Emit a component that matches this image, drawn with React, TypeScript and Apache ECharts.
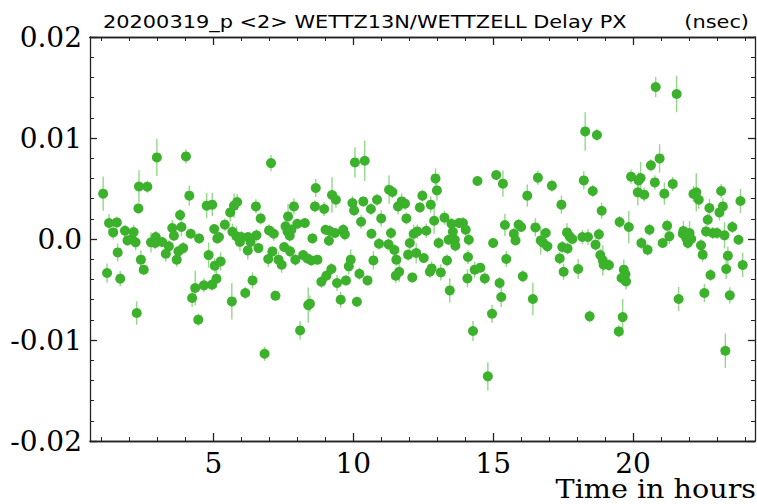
import React, { useEffect, useRef } from "react";
import * as echarts from "echarts";

// Time (hours), delay residual (nsec), formal error (nsec)
const times = [
  1.06, 1.2, 1.27, 1.42, 1.55, 1.58, 1.67, 1.84, 1.93, 2.08, 2.15, 2.22, 2.26, 2.32, 2.34, 2.41, 2.51, 2.64, 2.77, 2.92,
  2.94, 2.98, 3.17, 3.3, 3.41, 3.53, 3.59, 3.69, 3.75, 3.81, 3.86, 3.92, 4.02, 4.14, 4.19, 4.24, 4.35, 4.46, 4.49, 4.66,
  4.76, 4.83, 4.95, 4.96, 5.03, 5.05, 5.11, 5.14, 5.2, 5.26, 5.41, 5.6, 5.66, 5.68, 5.74, 5.83, 5.85, 5.95, 6.0, 6.14,
  6.23, 6.24, 6.33, 6.4, 6.52, 6.54, 6.61, 6.69, 6.83, 6.96, 6.99, 7.06, 7.11, 7.16, 7.22, 7.33, 7.44, 7.53, 7.58, 7.65,
  7.67, 7.73, 7.74, 7.79, 7.88, 7.93, 8.0, 8.1, 8.21, 8.27, 8.36, 8.39, 8.45, 8.5, 8.54, 8.63, 8.66, 8.72, 8.86, 8.96,
  9.01, 9.04, 9.13, 9.16, 9.22, 9.24, 9.35, 9.38, 9.42, 9.55, 9.64, 9.7, 9.74, 9.84, 9.91, 9.97, 10.03, 10.06, 10.13, 10.22,
  10.28, 10.36, 10.41, 10.51, 10.63, 10.65, 10.72, 10.85, 10.92, 11.0, 11.26, 11.28, 11.35, 11.4, 11.47, 11.52, 11.54, 11.6, 11.64, 11.73,
  11.85, 11.9, 11.96, 12.02, 12.11, 12.16, 12.25, 12.29, 12.38, 12.47, 12.52, 12.61, 12.74, 12.77, 12.8, 12.89, 12.94, 12.99, 13.05, 13.13,
  13.26, 13.35, 13.41, 13.45, 13.51, 13.56, 13.63, 13.65, 13.78, 13.92, 14.02, 14.08, 14.1, 14.13, 14.28, 14.34, 14.44, 14.54, 14.7, 14.81,
  14.96, 15.0, 15.11, 15.23, 15.29, 15.35, 15.42, 15.47, 15.74, 15.8, 15.91, 16.0, 16.06, 16.22, 16.42, 16.51, 16.6, 16.7, 16.77, 16.88,
  16.94, 17.1, 17.38, 17.44, 17.47, 17.52, 17.64, 17.66, 17.73, 17.83, 18.04, 18.19, 18.24, 18.29, 18.39, 18.45, 18.56, 18.66, 18.71, 18.78,
  18.83, 18.88, 18.92, 18.95, 19.14, 19.49, 19.52, 19.59, 19.63, 19.67, 19.73, 19.75, 19.85, 19.93, 20.17, 20.2, 20.27, 20.3, 20.4, 20.52,
  20.59, 20.64, 20.78, 20.81, 20.95, 21.06, 21.12, 21.22, 21.3, 21.42, 21.56, 21.63, 21.78, 21.8, 21.9, 21.96, 22.02, 22.08, 22.16, 22.26,
  22.35, 22.43, 22.49, 22.55, 22.61, 22.67, 22.73, 22.77, 22.85, 23.0, 23.09, 23.15, 23.21, 23.27, 23.3, 23.33, 23.39, 23.46, 23.55, 23.77,
  23.84, 23.92,
];

const delays = [
  0.00449, -0.00337, 0.00158, 0.00065, 0.00164, -0.00133, -0.00393, 0.00082, -0.00014, 0.0, 0.00069, -0.00033, -0.00733, 0.00303, 0.0052, -0.00205, -0.00304, 0.00518, -0.00033, -0.0004,
  0.0002, 0.00808, -0.0003, -0.00146, -0.00073, 0.00109, 0.00033, -0.00205, -0.00122, 0.00237, 0.00119, -0.0009, 0.00818, 0.00429, 0.00052, -0.00584, -0.00485, -0.00799, 0.00006, -0.00459,
  0.0033, -0.00159, -0.00452, 0.0034, 0.00099, -0.00264, -0.00393, 0.00006, 0.0002, -0.00222, 0.00142, 0.00263, -0.00618, 0.00072, 0.0033, 0.00026, 0.00366, -0.0003, 0.0002, -0.00535,
  -0.00113, 0.0002, -0.0003, -0.0041, 0.00323, 0.00036, -0.0009, 0.00204, -0.01136, -0.00198, 0.00085, 0.00752, -0.00123, 0.00052, -0.00561, -0.00205, -0.00255, -0.00079, 0.00125, 0.00075,
  0.00224, 0.00033, -0.00122, 0.00092, 0.00323, -0.00205, 0.00151, -0.00905, -0.00159, 0.00158, -0.00192, -0.00654, -0.0064, -0.00212, 0.00006, 0.00323, 0.00505, -0.00205, -0.00423, 0.00297,
  0.00092, -0.00363, -0.00017, 0.00079, -0.00297, 0.00436, 0.00059, 0.00389, -0.00436, -0.00601, 0.00092, 0.00046, -0.0041, -0.00271, -0.00205, 0.00356, 0.00283, 0.00758, -0.00621, -0.00344,
  0.00171, 0.00372, 0.00775, -0.0041, 0.00297, 0.00052, -0.00212, 0.00389, -0.00047, 0.00204, -0.00053, 0.00488, 0.00059, 0.00465, -0.00109, -0.00363, -0.00205, 0.00323, -0.00324, 0.00372,
  0.0035, 0.00204, -0.00155, -0.0004, -0.0038, 0.00052, -0.00139, 0.00075, 0.00313, 0.00429, -0.00188, 0.00082, -0.00324, 0.0034, -0.00291, 0.00181, 0.006, 0.00481, -0.0004, -0.00331,
  0.00211, -0.00212, -0.00007, -0.00509, 0.00151, 0.00072, -0.00007, -0.00066, 0.00158, 0.00158, 0.00092, -0.0039, -0.00178, -0.00007, -0.00911, -0.00304, 0.00574, -0.00284, -0.0039, -0.0136,
  -0.0074, -0.0004, 0.00634, -0.00436, -0.00574, 0.00548, 0.00139, -0.00198, 0.00052, -0.00014, 0.00142, 0.00119, -0.0037, 0.00429, -0.00594, 0.00115, 0.00607, -0.00014, -0.00033, 0.00059,
  -0.00073, 0.00528, -0.00192, 0.0034, -0.00079, -0.00324, 0.00065, -0.00093, 0.00026, 0.0, -0.00297, 0.0002, 0.0058, 0.01065, 0.0002, -0.00766, 0.00475, -0.00056, 0.0103, 0.00046,
  -0.00159, 0.0028, -0.00212, -0.00254, -0.00258, -0.00915, 0.00168, -0.00386, -0.00773, -0.00304, -0.0035, -0.0042, 0.00119, 0.00617, 0.00462, 0.0058, 0.00604, -0.0004, 0.00439, -0.00106,
  0.00092, 0.00729, 0.0056, 0.01505, 0.00798, -0.0004, 0.00449, 0.00132, 0.00026, 0.00545, 0.01436, -0.00594, 0.00052, 0.00079, 0.0001, -0.0004, 0.00059, 0.0, 0.00446, 0.00462,
  0.00389, -0.00063, -0.00155, -0.00535, 0.00075, 0.00191, 0.00307, -0.00356, 0.00059, 0.00059, 0.00263, 0.00475, 0.00323, 0.00036, -0.01106, -0.00297, -0.00165, -0.00558, 0.00119, -0.00007,
  0.00376, -0.00257,
];

const sigmas = [
  0.0017, 0.00095, 0.0009, 0.0007, 0.0006, 0.0009, 0.00075, 0.0006, 0.0005, 0.0005, 0.0007, 0.0008, 0.00115, 0.0005, 0.0016, 0.0009, 0.0005, 0.0006, 0.001, 0.0006,
  0.0006, 0.00185, 0.0005, 0.0008, 0.0006, 0.0008, 0.0005, 0.0007, 0.0005, 0.0006, 0.0009, 0.0006, 0.0007, 0.001, 0.0005, 0.0009, 0.0017, 0.0006, 0.0005, 0.0007,
  0.00125, 0.00125, 0.0006, 0.00115, 0.0005, 0.0007, 0.0009, 0.0005, 0.0005, 0.0009, 0.0006, 0.0009, 0.0018, 0.0008, 0.0012, 0.001, 0.0008, 0.0009, 0.0006, 0.0006,
  0.0009, 0.0005, 0.0009, 0.0008, 0.0007, 0.0006, 0.0005, 0.0006, 0.0007, 0.0008, 0.0006, 0.0008, 0.0005, 0.0007, 0.0005, 0.0008, 0.0008, 0.0005, 0.0006, 0.0008,
  0.00125, 0.0006, 0.0006, 0.0006, 0.0008, 0.0006, 0.0005, 0.0009, 0.0005, 0.0005, 0.0005, 0.00175, 0.0008, 0.0005, 0.0005, 0.0006, 0.0009, 0.0005, 0.0006, 0.0007,
  0.0005, 0.0006, 0.0005, 0.0006, 0.0006, 0.00175, 0.0005, 0.0008, 0.0008, 0.0008, 0.0006, 0.0006, 0.0005, 0.0008, 0.001, 0.0007, 0.0005, 0.0015, 0.0005, 0.0006,
  0.0007, 0.0005, 0.002, 0.0005, 0.0006, 0.0005, 0.0009, 0.0006, 0.0006, 0.0008, 0.0006, 0.0014, 0.0006, 0.0006, 0.0006, 0.0007, 0.0006, 0.0008, 0.001, 0.0008,
  0.0006, 0.0006, 0.0006, 0.0008, 0.0005, 0.0009, 0.001, 0.0007, 0.0005, 0.0006, 0.0005, 0.0007, 0.0006, 0.0008, 0.0007, 0.0013, 0.001, 0.001, 0.0006, 0.0008,
  0.0007, 0.0006, 0.0005, 0.0012, 0.0006, 0.0006, 0.0006, 0.0006, 0.0005, 0.0006, 0.0006, 0.0009, 0.0007, 0.0006, 0.001, 0.0008, 0.0005, 0.0005, 0.0006, 0.0014,
  0.0009, 0.0005, 0.0005, 0.0006, 0.001, 0.0013, 0.0011, 0.0008, 0.0006, 0.0005, 0.0006, 0.0005, 0.0006, 0.0011, 0.0016, 0.0009, 0.0007, 0.0014, 0.0006, 0.0005,
  0.0006, 0.0006, 0.0006, 0.0009, 0.0006, 0.0008, 0.0009, 0.0006, 0.0006, 0.0005, 0.001, 0.0007, 0.0009, 0.0019, 0.0008, 0.0006, 0.0006, 0.0006, 0.0006, 0.0006,
  0.0006, 0.0008, 0.0015, 0.0006, 0.0006, 0.0006, 0.0006, 0.0006, 0.0018, 0.001, 0.0006, 0.0008, 0.0016, 0.0007, 0.0013, 0.0008, 0.0016, 0.0006, 0.0007, 0.0006,
  0.0006, 0.0006, 0.0007, 0.001, 0.0014, 0.0005, 0.0011, 0.0006, 0.0008, 0.0007, 0.0018, 0.0012, 0.0008, 0.001, 0.0009, 0.0006, 0.0012, 0.0006, 0.0008, 0.0019,
  0.0009, 0.0006, 0.0007, 0.0009, 0.0006, 0.0006, 0.0009, 0.0006, 0.0006, 0.0006, 0.0008, 0.0007, 0.0008, 0.0013, 0.0017, 0.001, 0.0009, 0.0008, 0.0006, 0.0005,
  0.0012, 0.0012,
];

const xMajorTicks = [5, 10, 15, 20];
const xMinorTicks = [1, 2, 3, 4, 5, 6, 7, 8, 9, 10, 11, 12, 13, 14, 15, 16, 17, 18, 19, 20, 21, 22, 23, 24];
const yTickLabels: Record<string, string> = {
  "-2": "-0.02",
  "-1": "-0.01",
  "0": "0.0",
  "1": "0.01",
  "2": "0.02",
};

const titleText = "20200319_p <2> WETTZ13N/WETTZELL Delay PX";
const unitText = "(nsec)";
const xAxisTitle = "Time in hours";

const POINT = "#3cb12b";
const BAR = "#93d88b";
const AXIS = "#222222";
const SERIF = "'DejaVu Serif', serif";
const SANS = "'DejaVu Sans', sans-serif";

export default function App() {
  const ref = useRef<HTMLDivElement>(null);

  useEffect(() => {
    if (!ref.current) return;
    const chart = echarts.init(ref.current, undefined, { renderer: "svg" });

    const n = Math.min(times.length, delays.length, sigmas.length);
    const pts: number[][] = [];
    const bars: number[][] = [];
    for (let i = 0; i < n; i++) {
      pts.push([times[i], delays[i]]);
      bars.push([times[i], delays[i], sigmas[i]]);
    }

    const xBase = {
      type: "value" as const,
      min: 0.59,
      max: 24.36,
      splitLine: { show: false },
      axisLine: { show: true, onZero: false, lineStyle: { color: AXIS, width: 1.3 } },
    };
    const yBase = {
      type: "value" as const,
      min: -0.02,
      max: 0.02,
      interval: 0.01,
      splitLine: { show: false },
      minorSplitLine: { show: false },
      axisLine: { show: true, onZero: false, lineStyle: { color: AXIS, width: 1.3 } },
      axisTick: { show: true, inside: true, length: 7, lineStyle: { color: AXIS, width: 1.3 } },
      minorTick: { show: true, splitNumber: 5, length: 4, lineStyle: { color: AXIS, width: 1 } },
    };

    chart.setOption({
      animation: false,
      backgroundColor: "#ffffff",
      grid: { left: 90, right: 2, top: 37, bottom: 63, containLabel: false, outerBoundsMode: "none" },
      xAxis: [
        {
          ...xBase,
          position: "bottom",
          axisTick: { show: true, inside: true, length: 8, customValues: xMajorTicks, lineStyle: { color: AXIS, width: 1.3 } },
          axisLabel: { show: true, customValues: xMajorTicks, fontFamily: SERIF, fontSize: 28, lineHeight: 24, color: "#000", margin: 10 },
        },
        {
          ...xBase,
          position: "bottom",
          offset: 0,
          axisTick: { show: true, inside: true, length: 4, customValues: xMinorTicks, lineStyle: { color: AXIS, width: 1 } },
          axisLabel: { show: false },
        },
        {
          ...xBase,
          position: "top",
          offset: 0,
          axisTick: { show: true, inside: true, length: 8, customValues: xMajorTicks, lineStyle: { color: AXIS, width: 1.3 } },
          axisLabel: { show: false },
        },
        {
          ...xBase,
          position: "top",
          offset: 0,
          axisTick: { show: true, inside: true, length: 4, customValues: xMinorTicks, lineStyle: { color: AXIS, width: 1 } },
          axisLabel: { show: false },
        },
      ],
      yAxis: [
        {
          ...yBase,
          position: "left",
          axisLabel: {
            show: true,
            fontFamily: SERIF,
            fontSize: 28,
            color: "#000",
            margin: 8,
            formatter: (v: number) => yTickLabels[String(Math.round(v * 100))] ?? "",
          },
        },
        {
          ...yBase,
          position: "right",
          offset: 0,
          axisLabel: { show: false },
        },
      ],
      series: [
        {
          type: "custom",
          xAxisIndex: 0,
          yAxisIndex: 0,
          data: bars,
          z: 1,
          renderItem: (params: any, api: any) => {
            const x = api.value(0);
            const y = api.value(1);
            const e = api.value(2);
            const p1 = api.coord([x, y - e]);
            const p2 = api.coord([x, y + e]);
            return {
              type: "line",
              shape: { x1: p1[0], y1: p1[1], x2: p2[0], y2: p2[1] },
              style: { stroke: BAR, lineWidth: 1.4 },
            };
          },
        },
        {
          type: "scatter",
          xAxisIndex: 0,
          yAxisIndex: 0,
          data: pts,
          symbol: "circle",
          symbolSize: 10,
          itemStyle: { color: POINT, opacity: 1 },
          z: 2,
        },
      ],
      graphic: [
        {
          type: "text",
          x: 103,
          y: 21.5,
          scaleX: 1.16,
          style: { text: titleText, x: 0, y: 0, align: "left", verticalAlign: "middle", fontFamily: SANS, fontSize: 18, fill: "#000" },
        },
        {
          type: "text",
          x: 749,
          y: 21.5,
          scaleX: 1.16,
          style: { text: unitText, x: 0, y: 0, align: "right", verticalAlign: "middle", fontFamily: SANS, fontSize: 18, fill: "#000" },
        },
        {
          type: "text",
          x: 756,
          y: 489,
          scaleX: 1.1,
          style: { text: xAxisTitle, x: 0, y: 0, align: "right", verticalAlign: "middle", fontFamily: SERIF, fontSize: 26, lineHeight: 24, fill: "#000" },
        },
      ],
    });

    return () => chart.dispose();
  }, []);

  return (
    <div
      ref={ref}
      style={{ position: "absolute", left: 0, top: 0, width: 757, height: 504, background: "#fff" }}
    />
  );
}
